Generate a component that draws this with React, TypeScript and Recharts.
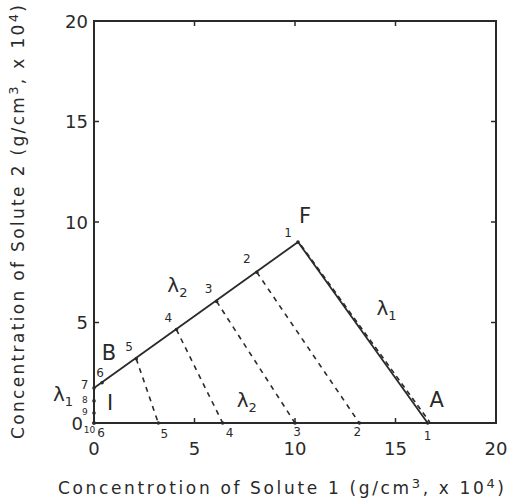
import React from 'react';
import {
  ComposedChart,
  XAxis,
  YAxis,
  ReferenceArea,
  ReferenceLine,
  ReferenceDot,
} from 'recharts';

const axisTicks = [0, 5, 10, 15, 20];

// operating line B -> F, points 1..7
const upperPts = [
  { n: '1', x: 10.15, y: 9.0 },
  { n: '2', x: 8.1, y: 7.5 },
  { n: '3', x: 6.1, y: 6.05 },
  { n: '4', x: 4.1, y: 4.65 },
  { n: '5', x: 2.1, y: 3.2 },
  { n: '6', x: 0.4, y: 2.0 },
  { n: '7', x: 0, y: 1.74 },
];

// points on the solute 1 axis
const lowerPts = [
  { n: '1', x: 16.6, y: 0 },
  { n: '2', x: 13.2, y: 0 },
  { n: '3', x: 10.0, y: 0 },
  { n: '4', x: 6.4, y: 0 },
  { n: '5', x: 3.2, y: 0 },
  { n: '6', x: 0, y: 0 },
];

// points on the solute 2 axis
const sidePts = [
  { n: '8', x: 0, y: 1.1 },
  { n: '9', x: 0, y: 0.5 },
  { n: '10', x: 0, y: 0 },
];

const feedF = { x: 10.15, y: 9.0 };
const pointA = { x: 16.6, y: 0 };
const pointB = { x: 0, y: 1.74 };
const parallelDash = [{ x: 10.3, y: 8.85 }, { x: 16.7, y: 0.05 }];

// dashed characteristics joining upper n to lower n
const dashedPairs = ['2', '3', '4', '5'];

// label positions (data units)
const upperLabels = [
  { t: '1', x: 9.65, y: 9.45 },
  { t: '2', x: 7.6, y: 8.15 },
  { t: '3', x: 5.7, y: 6.65 },
  { t: '4', x: 3.7, y: 5.2 },
  { t: '5', x: 1.75, y: 3.8 },
  { t: '6', x: 0.3, y: 2.5 },
  { t: '7', x: -0.47, y: 1.87 },
];
const sideLabels = [
  { t: '8', x: -0.45, y: 1.15 },
  { t: '9', x: -0.45, y: 0.55 },
  { t: '10', x: -0.22, y: -0.33 },
];
const lowerLabels = [
  { t: '6', x: 0.35, y: -0.5 },
  { t: '5', x: 3.5, y: -0.55 },
  { t: '4', x: 6.75, y: -0.5 },
  { t: '3', x: 10.1, y: -0.45 },
  { t: '2', x: 13.1, y: -0.45 },
  { t: '1', x: 16.6, y: -0.65 },
];
const letters = [
  { t: 'F', x: 10.5, y: 10.3 },
  { t: 'A', x: 17.05, y: 1.15 },
  { t: 'B', x: 0.75, y: 3.5 },
  { t: 'I', x: 0.8, y: 1.0 },
];
const lambdas = [
  { sub: '1', x: 14.55, y: 5.72 },
  { sub: '2', x: 4.15, y: 6.87 },
  { sub: '2', x: 7.6, y: 1.15 },
  { sub: '1', x: -1.54, y: 1.44 },
];

const FONT = '"DejaVu Sans", sans-serif';
const INK = '#2a2a2a';

const find = (arr: { n: string; x: number; y: number }[], n: string) =>
  arr.find((p) => p.n === n)!;

const textShape = (t: string, size: number) => (p: any) => (
  <text x={p.cx} y={p.cy} fontSize={size} fontFamily={FONT} fill={INK}
    textAnchor="middle" dominantBaseline="central">{t}</text>
);

const lambdaShape = (sub: string) => (p: any) => (
  <text x={p.cx} y={p.cy} fontSize={20} fontFamily={FONT} fill={INK}
    textAnchor="middle" dominantBaseline="central">
    λ<tspan fontSize={13} dy={7}>{sub}</tspan>
  </text>
);

// y tick: the "0" sits a little further left in the original
const YTick = (p: any) => (
  <text x={p.x - (p.payload.value === 0 ? 5 : 0)} y={p.y} fontSize={18} fontFamily={FONT}
    fill={INK} textAnchor="end" dominantBaseline="central">{p.payload.value}</text>
);

const XTitle = (props: any) => {
  const vb = props.viewBox;
  return (
    <text x={vb.x + vb.width / 2 - 14} y={494} fontSize={17} fontFamily={FONT} fill={INK}
      textAnchor="middle" textLength={446} lengthAdjust="spacing">
      Concentrotion of Solute 1 (g/cm<tspan dy={-6} fontSize={13}>3</tspan>
      <tspan dy={6}>, x 10</tspan><tspan dy={-6} fontSize={13}>4</tspan><tspan dy={6}>)</tspan>
    </text>
  );
};

const YTitle = () => {
  const cy = 222;
  const cx = 24;
  return (
    <text x={cx} y={cy} transform={`rotate(-90 ${cx} ${cy})`} fontSize={17} fontFamily={FONT}
      fill={INK} textAnchor="middle" textLength={434} lengthAdjust="spacing">
      Concentration of Solute 2 (g/cm<tspan dy={-6} fontSize={13}>3</tspan>
      <tspan dy={6}>, x 10</tspan><tspan dy={-6} fontSize={13}>4</tspan><tspan dy={6}>)</tspan>
    </text>
  );
};

export default function App() {
  const inner = [5, 10, 15];
  return (
    <div style={{ position: 'absolute', left: 0, top: 0, background: '#fff' }}>
      <ComposedChart width={509} height={504} margin={{ top: 21, right: 13, bottom: 0, left: 0 }}>
        <XAxis type="number" dataKey="x" domain={[0, 20]} ticks={axisTicks} allowDataOverflow
          tickLine={false} axisLine={false} tickSize={0} tickMargin={19} height={81}
          tick={{ fontSize: 18, fontFamily: FONT, fill: INK }} label={<XTitle />} />
        <YAxis type="number" dataKey="y" domain={[0, 20]} ticks={axisTicks} allowDataOverflow
          tickLine={false} axisLine={false} tickSize={0} tickMargin={6} width={94}
          tick={<YTick />} label={<YTitle />} />

        <ReferenceArea x1={0} x2={20} y1={0} y2={20} fill="none" stroke={INK} strokeWidth={2} />

        {inner.map((v) => (
          <ReferenceLine key={`bx${v}`} segment={[{ x: v, y: 0 }, { x: v, y: 0.25 }]} stroke={INK} strokeWidth={1.5} />
        ))}
        {inner.map((v) => (
          <ReferenceLine key={`tx${v}`} segment={[{ x: v, y: 20 }, { x: v, y: 19.75 }]} stroke={INK} strokeWidth={1.5} />
        ))}
        {inner.map((v) => (
          <ReferenceLine key={`ly${v}`} segment={[{ x: 0, y: v }, { x: 0.25, y: v }]} stroke={INK} strokeWidth={1.5} />
        ))}
        {inner.map((v) => (
          <ReferenceLine key={`ry${v}`} segment={[{ x: 20, y: v }, { x: 19.75, y: v }]} stroke={INK} strokeWidth={1.5} />
        ))}

        <ReferenceLine segment={[pointB, feedF]} stroke={INK} strokeWidth={1.8} />
        <ReferenceLine segment={[feedF, pointA]} stroke={INK} strokeWidth={1.8} />
        <ReferenceLine segment={parallelDash} stroke={INK} strokeWidth={1.6} strokeDasharray="5 4" />

        {dashedPairs.map((n) => (
          <ReferenceLine key={`d${n}`} segment={[find(upperPts, n), find(lowerPts, n)]}
            stroke={INK} strokeWidth={1.6} strokeDasharray="5 5" />
        ))}
        <ReferenceLine segment={[pointB, { x: 0, y: 0 }]} stroke={INK} strokeWidth={2} strokeDasharray="2 3" />

        {[...upperPts, ...lowerPts, ...sidePts].map((p, i) => (
          <ReferenceDot key={`p${i}`} x={p.x} y={p.y} r={1.8} fill={INK} stroke="none" ifOverflow="visible" />
        ))}

        {[...upperLabels, ...lowerLabels].map((l, i) => (
          <ReferenceDot key={`n${i}`} x={l.x} y={l.y} r={0} ifOverflow="visible" shape={textShape(l.t, 12)} />
        ))}
        {sideLabels.map((l, i) => (
          <ReferenceDot key={`s${i}`} x={l.x} y={l.y} r={0} ifOverflow="visible" shape={textShape(l.t, 9)} />
        ))}
        {letters.map((l, i) => (
          <ReferenceDot key={`L${i}`} x={l.x} y={l.y} r={0} ifOverflow="visible" shape={textShape(l.t, 21)} />
        ))}
        {lambdas.map((l, i) => (
          <ReferenceDot key={`lam${i}`} x={l.x} y={l.y} r={0} ifOverflow="visible" shape={lambdaShape(l.sub)} />
        ))}
      </ComposedChart>
    </div>
  );
}
